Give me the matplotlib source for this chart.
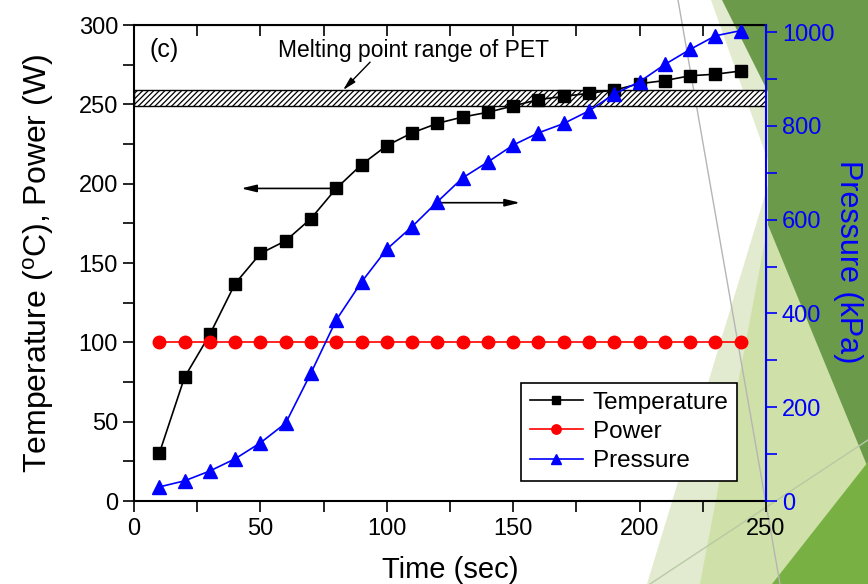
import matplotlib
matplotlib.use('Agg')
import matplotlib.pyplot as plt
from matplotlib.patches import Polygon
from matplotlib.lines import Line2D
from matplotlib.ticker import MultipleLocator

plt.rcParams['font.family'] = ['Liberation Sans', 'DejaVu Sans']
plt.rcParams['hatch.linewidth'] = 0.9

# data
time_s = [10, 20, 30, 40, 50, 60, 70, 80, 90, 100, 110, 120,
          130, 140, 150, 160, 170, 180, 190, 200, 210, 220, 230, 240]
temperature = [30, 78, 105, 137, 156, 164, 178, 197, 212, 224, 232, 238,
               242, 245, 249, 253, 255, 257, 259, 263, 265, 268, 269, 271]
power = [100] * 24
pressure = [30, 43, 64, 90, 124, 166, 273, 386, 467, 537, 585, 638,
            689, 723, 759, 785, 805, 832, 868, 894, 931, 963, 992, 1003]
melt_low, melt_high = 249, 259

W, H = 868, 584
fig = plt.figure(figsize=(W / 100, H / 100), dpi=100)


# slide background decoration (pixel coords, y from top)
def bg(points, color, z=0):
    pts = [(x / W, 1 - y / H) for x, y in points]
    fig.add_artist(Polygon(pts, closed=True, facecolor=color, edgecolor='none',
                           transform=fig.transFigure, zorder=z))


bg([(711, 0), (868, 0), (868, 584), (647, 584), (772, 172)], '#e2ebcf')
bg([(768, 225), (868, 468), (868, 584), (700, 584)], '#cfe0a8')
bg([(722, 0), (868, 0), (868, 468), (768, 225), (768, 92)], '#6b9a4b')
bg([(772, 584), (868, 462), (868, 584)], '#78b043')
fig.add_artist(Line2D([678 / W, 780 / W], [1, 0], color='#b5b5b5', lw=1,
                      transform=fig.transFigure, zorder=0))
fig.add_artist(Line2D([650 / W, 1], [0, 1 - 440 / H], color='#b9c9a5', lw=1,
                      transform=fig.transFigure, zorder=0))

ax = fig.add_axes([134 / W, 1 - 501 / H, (766 - 134) / W, (501 - 25) / H])
ax.patch.set_alpha(0)
ax2 = ax.twinx()
ax2.patch.set_alpha(0)

# melting range band
ax.fill_between([0, 250], melt_low, melt_high, facecolor='white',
                edgecolor='black', hatch='//////', lw=1, zorder=1)

l1, = ax.plot(time_s, temperature, color='black', marker='s', markersize=8.5,
              lw=1.2, label='Temperature', zorder=3)
l2, = ax.plot(time_s, power, color='red', marker='o', markersize=9,
              lw=1.2, label='Power', zorder=3)
l3, = ax2.plot(time_s, pressure, color='blue', marker='^', markersize=10,
               lw=1.2, label='Pressure', zorder=3)

ax.set_xlim(0, 250)
ax.set_ylim(0, 300)
ax2.set_ylim(0, 1015)

ax.xaxis.set_major_locator(MultipleLocator(50))
ax.xaxis.set_minor_locator(MultipleLocator(25))
ax.yaxis.set_major_locator(MultipleLocator(50))
ax.yaxis.set_minor_locator(MultipleLocator(25))
ax2.yaxis.set_major_locator(MultipleLocator(200))
ax2.yaxis.set_minor_locator(MultipleLocator(100))

ax.tick_params(which='both', direction='out', length=8, width=1.2,
               labelsize=17, top=False)
ax.tick_params(axis='x', pad=4)
ax2.tick_params(which='both', direction='out', length=8, width=1.2,
                labelsize=17, colors='blue')
ax2.spines['right'].set_color('blue')
ax2.spines['right'].set_linewidth(1.5)
for s in ['left', 'top', 'bottom']:
    ax.spines[s].set_linewidth(1.5)
ax2.spines['left'].set_visible(False)
ax2.spines['top'].set_visible(False)
ax2.spines['bottom'].set_visible(False)

top = ax.secondary_xaxis('top')
top.xaxis.set_major_locator(MultipleLocator(25))
top.tick_params(direction='in', length=8, width=1.2, labeltop=False)

ax.set_xlabel('Time (sec)', fontsize=21, labelpad=12)
ax.set_ylabel('Temperature ($\\mathregular{^{o}}$C), Power (W)', fontsize=23, labelpad=16)
fig.text(848 / W, 1 - 262 / H, 'Pressure (kPa)', fontsize=22, color='blue',
         rotation=-90, ha='center', va='center')

ax.text(6, 284, '(c)', fontsize=18, va='center')
ax.text(57, 284, 'Melting point range of PET', fontsize=16.5, va='center')
ax.annotate('', xy=(82.7, 259), xytext=(93.4, 276.6),
            arrowprops=dict(arrowstyle='-|>,head_length=0.8,head_width=0.2',
                            color='black', lw=1, shrinkA=0, shrinkB=0))
ax.annotate('', xy=(42.4, 197), xytext=(79.8, 197),
            arrowprops=dict(arrowstyle='-|>,head_length=0.9,head_width=0.22',
                            color='black', lw=1.2, shrinkA=0, shrinkB=0))
ax.annotate('', xy=(152.7, 188), xytext=(119.7, 188),
            arrowprops=dict(arrowstyle='-|>,head_length=0.9,head_width=0.22',
                            color='black', lw=1.2, shrinkA=0, shrinkB=0))

leg = ax2.legend(handles=[l1, l2, l3], loc='upper left',
                 bbox_to_anchor=(521 / W, 1 - 383 / H), bbox_transform=fig.transFigure,
                 fontsize=17.5, fancybox=False, framealpha=1, edgecolor='black',
                 handlelength=2.2, handletextpad=0.4, borderpad=0.35, labelspacing=0.3,
                 borderaxespad=0, markerscale=0.75)
leg.get_frame().set_linewidth(1.2)

fig.savefig('out.png', dpi=100)
